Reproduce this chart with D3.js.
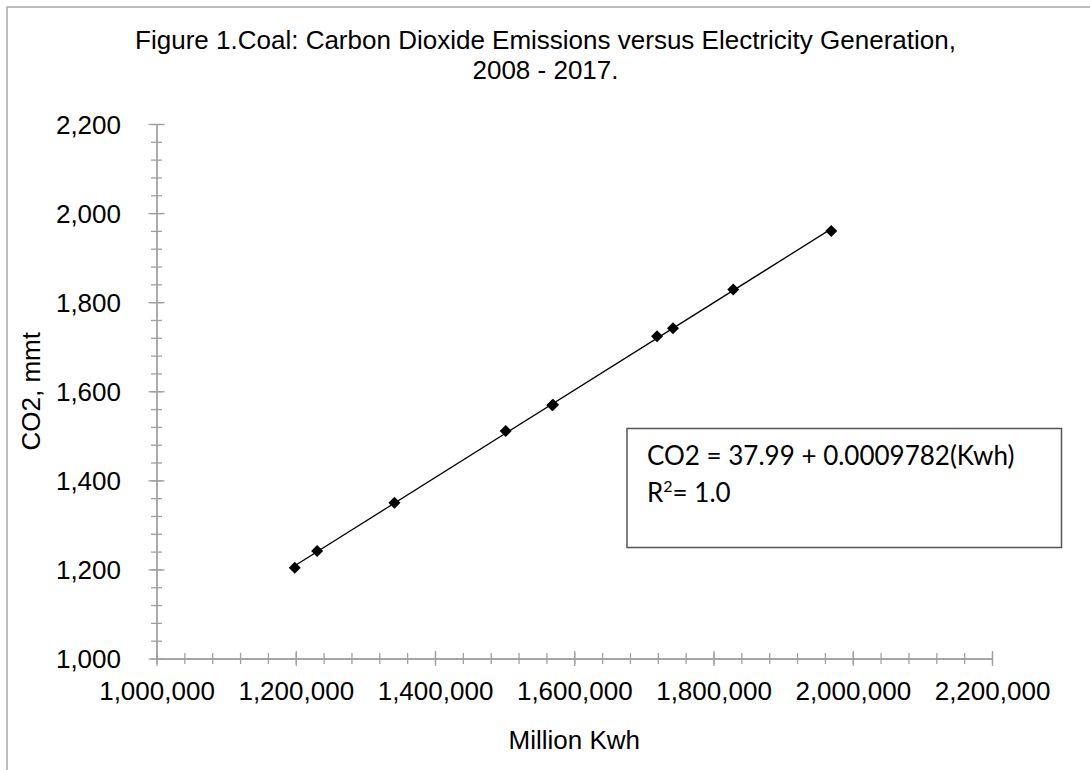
<!DOCTYPE html>
<html>
<head>
<meta charset="utf-8">
<script src="https://cdn.jsdelivr.net/npm/d3@7"></script>
<style>
    body { margin: 0; background: #fff; }
    svg { display: block; }
    text { font-family: "Liberation Sans", Arial, sans-serif; fill: #000; }
    .eq text { font-family: Lato, "Open Sans", sans-serif; }
</style>
</head>
<body>
<div id="chart"></div>
<script>
// Coal CO2 emissions vs electricity generation
const years = [2008, 2009, 2010, 2011, 2012, 2013, 2014, 2015, 2016, 2017];
const generation = [1969100, 1741800, 1828400, 1718900, 1501500, 1568400, 1569600, 1341700, 1230700, 1198600];
const co2 = [1959.6, 1741.6, 1828.5, 1723.6, 1510.8, 1568.6, 1569.8, 1349.9, 1241.1, 1203.8];

const titleLines = ['Figure 1.Coal: Carbon Dioxide Emissions versus Electricity Generation,', '2008 - 2017.'];
const xTitle = 'Million Kwh';
const yTitle = 'CO2, mmt';
const equationText = 'CO2 = 37.99 + 0.0009782(Kwh)';
const rSquaredText = '1.0';

const xMajor = d3.range(1000000, 2200001, 200000);
const xMinor = d3.range(1000000, 2200001, 40000);
const yMajor = d3.range(1000, 2201, 200);
const yMinor = d3.range(1000, 2201, 40);

const width = 1090, height = 770;
const axisColor = '#a0a0a0';
const fontSize = '26px';

const svg = d3.select('#chart').append('svg')
    .attr('width', width)
    .attr('height', height);

// outer chart border (only top/left visible in the crop)
svg.append('rect')
    .attr('x', 7).attr('y', 7)
    .attr('width', width + 20).attr('height', height + 20)
    .attr('fill', 'none')
    .attr('stroke', '#a6a6a6')
    .attr('stroke-width', 1.5);

const x = d3.scaleLinear().domain([1000000, 2200000]).range([156.5, 992]);
const y = d3.scaleLinear().domain([1000, 2200]).range([658.5, 124]);

// title
svg.append('text')
    .attr('text-anchor', 'middle')
    .style('font-size', fontSize)
    .selectAll('tspan')
    .data(titleLines)
    .join('tspan')
    .attr('x', 545.5)
    .attr('y', (d, i) => 49 + i * 30)
    .text(d => d);

// x axis: minor then major ticks, drawn as crosses through the axis line
const gx = svg.append('g').attr('transform', `translate(0,${y(1000)})`);
gx.append('g')
    .call(d3.axisBottom(x).tickValues(xMinor).tickFormat('').tickSizeOuter(0))
    .call(g => g.selectAll('.tick line').attr('y1', -5.5).attr('y2', 5.5));
gx.append('g')
    .call(d3.axisBottom(x).tickValues(xMajor).tickFormat(d3.format(',')).tickSizeOuter(0))
    .call(g => g.selectAll('.tick line').attr('y1', -7.5).attr('y2', 7.5))
    .call(g => g.selectAll('.tick text').attr('y', 41.5).attr('dy', 0).style('font-size', fontSize));

const gy = svg.append('g').attr('transform', `translate(${x(1000000)},0)`);
gy.append('g')
    .call(d3.axisLeft(y).tickValues(yMinor).tickFormat('').tickSizeOuter(0))
    .call(g => g.selectAll('.tick line').attr('x1', -5.5).attr('x2', 5.5));
gy.append('g')
    .call(d3.axisLeft(y).tickValues(yMajor).tickFormat(d3.format(',')).tickSizeOuter(0))
    .call(g => g.selectAll('.tick line').attr('x1', -8).attr('x2', 8))
    .call(g => g.selectAll('.tick text').attr('x', -35.5).attr('dy', '0.35em').style('font-size', fontSize));

svg.selectAll('.domain, .tick line')
    .attr('stroke', axisColor)
    .attr('stroke-width', 1.3);
svg.selectAll('.tick text').attr('fill', '#000').attr('font-family', null);

// axis titles
svg.append('text')
    .attr('x', x(1600000))
    .attr('y', 749)
    .attr('text-anchor', 'middle')
    .style('font-size', fontSize)
    .text(xTitle);

svg.append('text')
    .attr('transform', `translate(40,${y(1600)}) rotate(-90)`)
    .attr('text-anchor', 'middle')
    .style('font-size', fontSize)
    .text(yTitle);

// least-squares trend line across the data range
const points = years.map((yr, i) => ({ year: yr, kwh: generation[i], co2: co2[i] }));
const mx = d3.mean(points, d => d.kwh), my = d3.mean(points, d => d.co2);
const slope = d3.sum(points, d => (d.kwh - mx) * (d.co2 - my)) / d3.sum(points, d => (d.kwh - mx) ** 2);
const intercept = my - slope * mx;
const [xMin, xMax] = d3.extent(points, d => d.kwh);

svg.append('line')
    .attr('x1', x(xMin)).attr('y1', y(intercept + slope * xMin))
    .attr('x2', x(xMax)).attr('y2', y(intercept + slope * xMax))
    .attr('stroke', '#000')
    .attr('stroke-width', 1.3);

// diamond markers
svg.append('g')
    .selectAll('path')
    .data(points)
    .join('path')
    .attr('transform', d => `translate(${x(d.kwh)},${y(d.co2)})`)
    .attr('d', 'M0,-6L6,0L0,6L-6,0Z')
    .attr('fill', '#000');

// equation box
const eq = svg.append('g').attr('class', 'eq');
eq.append('rect')
    .attr('x', 627).attr('y', 428.5)
    .attr('width', 434.5).attr('height', 119)
    .attr('fill', '#fff')
    .attr('stroke', '#555')
    .attr('stroke-width', 1.5);
eq.append('text')
    .attr('x', 647).attr('y', 465)
    .style('font-size', '26px')
    .text(equationText);
const r2 = eq.append('text')
    .attr('x', 647).attr('y', 502)
    .style('font-size', '26px');
r2.append('tspan').text('R');
r2.append('tspan').attr('dy', -10).style('font-size', '16px').text('2');
r2.append('tspan').attr('dy', 10).text('= ' + rSquaredText);
</script>
</body>
</html>
